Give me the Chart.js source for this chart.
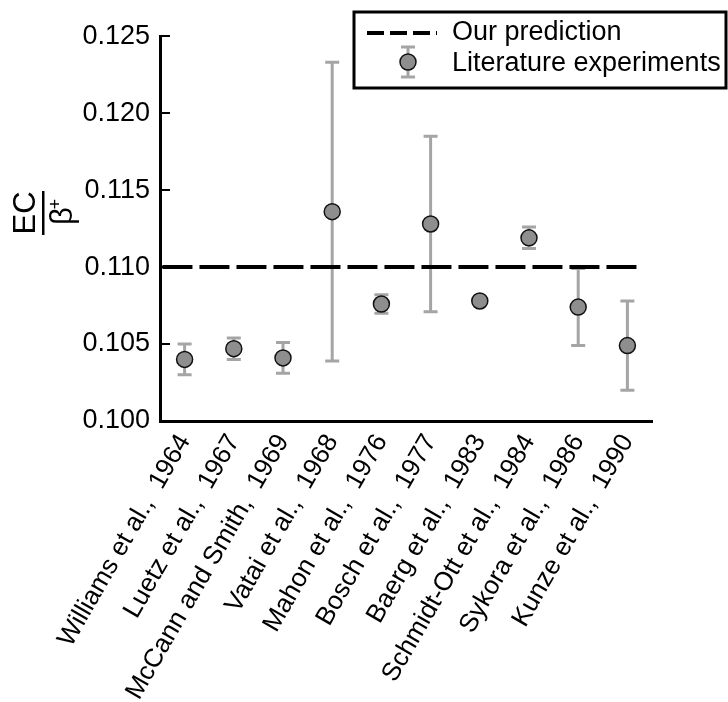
<!DOCTYPE html>
<html>
<head>
<meta charset="utf-8">
<script src="https://cdn.jsdelivr.net/npm/chart.js@4.4.1/dist/chart.umd.min.js"></script>
<style>
  html, body { margin: 0; padding: 0; background: #fff; }
  #wrap { width: 728px; height: 702px; }
</style>
</head>
<body>
<div id="wrap"><canvas id="chart" width="728" height="702"></canvas></div>
<script>
var labels = ['Williams et al.,  1964', 'Luetz et al.,  1967', 'McCann and Smith,  1969', 'Vatai et al.,  1968',
  'Mahon et al.,  1976', 'Bosch et al.,  1977', 'Baerg et al.,  1983', 'Schmidt-Ott et al.,  1984',
  'Sykora et al.,  1986', 'Kunze et al.,  1990'];
var ratio = [0.1040, 0.1047, 0.1041, 0.1136, 0.1076, 0.1128, 0.1078, 0.1119, 0.1074, 0.1049];
var ratioErr = [0.0010, 0.0007, 0.0010, 0.0097, 0.0006, 0.0057, 0.0002, 0.0007, 0.0025, 0.0029];
var prediction = 0.110;
var predictionSpan = [-0.45, 9.2];
var yTicks = [0.100, 0.105, 0.110, 0.115, 0.120, 0.125];

var FONT = 'Liberation Sans, Arial, sans-serif';
var ctx = document.getElementById('chart').getContext('2d');

// error bars behind the markers
var errorBars = {
  id: 'errorBars',
  beforeDatasetsDraw: function (chart) {
    var x = chart.scales.x, y = chart.scales.y, c = chart.ctx;
    c.save();
    c.strokeStyle = '#a5a5a5';
    c.lineWidth = 3;
    ratio.forEach(function (v, i) {
      var px = x.getPixelForValue(i);
      var top = y.getPixelForValue(v + ratioErr[i]);
      var bot = y.getPixelForValue(v - ratioErr[i]);
      c.beginPath();
      c.moveTo(px, top); c.lineTo(px, bot);
      c.moveTo(px - 7, top); c.lineTo(px + 7, top);
      c.moveTo(px - 7, bot); c.lineTo(px + 7, bot);
      c.stroke();
    });
    c.restore();
  }
};

// fraction title and the framed legend
var extras = {
  id: 'extras',
  afterDraw: function (chart) {
    var c = chart.ctx;
    c.save();
    // y title  EC / beta+
    c.translate(43, 213);
    c.rotate(-Math.PI / 2);
    c.fillStyle = '#000';
    c.font = '31px ' + FONT;
    c.textAlign = 'center';
    c.textBaseline = 'alphabetic';
    c.fillText('EC', 0, -8);
    c.fillRect(-22, -1, 44, 2.5);
    c.textBaseline = 'top';
    c.fillText('\u03B2', -3, 5);
    c.font = '18px ' + FONT;
    c.fillText('+', 9, 4);
    c.restore();

    // legend
    c.save();
    c.fillStyle = '#fff';
    c.fillRect(354, 12, 372, 76);
    c.strokeStyle = '#000';
    c.lineWidth = 3;
    c.strokeRect(354, 12, 372, 76);
    c.lineWidth = 4;
    c.setLineDash([17, 6]);
    c.beginPath();
    c.moveTo(367, 33); c.lineTo(437, 33);
    c.stroke();
    c.setLineDash([]);
    c.strokeStyle = '#a5a5a5';
    c.lineWidth = 3;
    c.beginPath();
    c.moveTo(408, 47); c.lineTo(408, 77);
    c.moveTo(401, 47); c.lineTo(415, 47);
    c.moveTo(401, 77); c.lineTo(415, 77);
    c.stroke();
    c.beginPath();
    c.arc(408, 62, 8, 0, Math.PI * 2);
    c.fillStyle = '#8e8e8e';
    c.fill();
    c.strokeStyle = '#111';
    c.lineWidth = 1.5;
    c.stroke();
    c.fillStyle = '#000';
    c.font = '27px ' + FONT;
    c.textAlign = 'left';
    c.textBaseline = 'middle';
    c.fillText('Our prediction', 452, 33);
    c.fillText('Literature experiments', 452, 64);
    c.restore();
  }
};

var chart = new Chart(ctx, {
  type: 'scatter',
  data: {
    datasets: [
      {
        label: 'Our prediction',
        type: 'line',
        data: predictionSpan.map(function (xv) { return { x: xv, y: prediction }; }),
        borderColor: '#000',
        borderWidth: 4,
        borderDash: [30, 7],
        borderCapStyle: 'butt',
        pointRadius: 0,
        fill: false,
        order: 2
      },
      {
        label: 'Literature experiments',
        data: ratio.map(function (v, i) { return { x: i, y: v }; }),
        backgroundColor: '#8e8e8e',
        borderColor: '#111',
        borderWidth: 1.5,
        pointRadius: 8,
        order: 1
      }
    ]
  },
  options: {
    responsive: false,
    animation: false,
    layout: { padding: { top: 33, right: 76, left: 0, bottom: 0 } },
    plugins: { legend: { display: false }, tooltip: { enabled: false } },
    scales: {
      x: {
        type: 'linear',
        min: -0.5,
        max: 9.5,
        afterBuildTicks: function (scale) {
          scale.ticks = labels.map(function (l, i) { return { value: i }; });
        },
        afterFit: function (scale) { scale.height = 281; },
        grid: { display: false, drawTicks: false },
        border: { display: true, color: '#000', width: 3 },
        ticks: {
          autoSkip: false,
          minRotation: 60,
          maxRotation: 60,
          padding: 8,
          color: '#000',
          font: { size: 26, family: FONT },
          callback: function (v) { return labels[v]; }
        }
      },
      y: {
        min: 0.100,
        max: 0.125,
        afterBuildTicks: function (scale) {
          scale.ticks = yTicks.map(function (v) { return { value: v }; });
        },
        afterFit: function (scale) { scale.width = 160; },
        grid: { drawOnChartArea: false, drawTicks: true, tickLength: -10, color: '#000', lineWidth: 2 },
        border: { display: true, color: '#000', width: 3 },
        ticks: {
          padding: 20,
          color: '#000',
          font: { size: 27, family: FONT },
          callback: function (v) { return v.toFixed(3); }
        }
      }
    }
  },
  plugins: [errorBars, extras]
});
</script>
</body>
</html>
